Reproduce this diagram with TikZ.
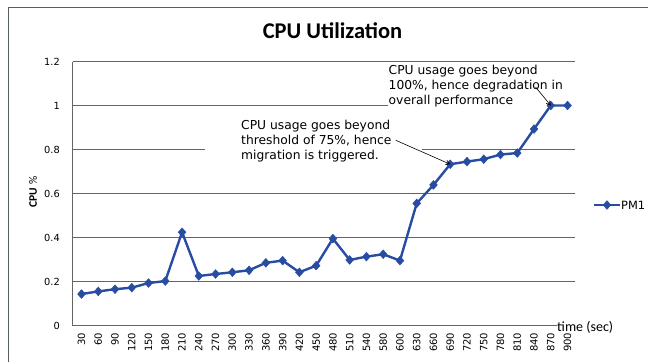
\documentclass[tikz,border=0pt]{standalone}
\usepackage{fontspec}
\setmainfont{DejaVu Sans}
\newfontfamily\carlito{Carlito}
\usetikzlibrary{shapes.geometric,arrows.meta}
\definecolor{series}{RGB}{40,76,162}
\definecolor{gridc}{RGB}{100,100,100}
\definecolor{framec}{RGB}{85,95,92}
\tikzset{
  gridline/.style={gridc, line width=0.9pt},
  axisline/.style={gridc, line width=1pt},
  ticklab/.style={inner sep=0pt, font=\fontsize{9.8}{11}\selectfont, text=black},
  xlab/.style={inner sep=0pt, rotate=90, anchor=east, font=\fontsize{10}{11}\selectfont, text=black},
  anntext/.style={inner sep=0pt, anchor=base west, font=\fontsize{12.3}{15}\selectfont, text=black},
  mk/.style={diamond, fill=series, draw=series, inner sep=0pt, minimum width=8pt, minimum height=9pt},
  seriesline/.style={series, line width=2.4pt, line join=round},
  callout/.style={black, line width=0.6pt, -{Straight Barb[length=4pt,width=4.5pt]}},
}
\begin{document}
\begin{tikzpicture}[x=1pt,y=-1pt]
\useasboundingbox (0,0) rectangle (648,362);

% chart frame
\draw[framec, line width=1pt] (8,362) -- (8,7) -- (648,7);

% title
\node[inner sep=0pt, anchor=base, font=\carlito\bfseries\fontsize{22.5}{24}\selectfont] (title) at (332.5,38.5) {CPU Utilization};

% horizontal gridlines
\draw[gridline] (72.5,61.5) -- (575,61.5);
\draw[gridline] (72.5,105.5) -- (388,105.5);
\draw[gridline] (72.5,149.5) -- (205,149.5);
\draw[gridline] (422,149.5) -- (575,149.5);
\draw[gridline] (72.5,193.5) -- (575,193.5);
\draw[gridline] (72.5,237.5) -- (575,237.5);
\draw[gridline] (72.5,281.5) -- (575,281.5);

% axes
\draw[axisline] (72.5,61.5) -- (72.5,325.5) -- (557,325.5);

% y tick labels
\foreach \v/\lab in {0/0, 0.2/0.2, 0.4/0.4, 0.6/0.6, 0.8/0.8, 1/1, 1.2/1.2}
  \node[ticklab, anchor=east] at (60,{325.5-220*\v}) {\lab};

% y axis title
\node[inner sep=0pt, rotate=90, font=\carlito\fontsize{11.5}{12}\selectfont] (ytitle) at (33,192) {\bfseries CPU \mdseries\%};

% x tick labels
\foreach \t [count=\i from 0] in {30,60,90,120,150,180,210,240,270,300,330,360,390,420,450,480,510,540,580,600,630,660,690,720,750,780,810,840,870,900}
  \node[xlab] at ({81.5+16.76*\i},332.5) {\t};

% x axis title
\node[inner sep=0pt, anchor=west, font=\carlito\fontsize{14}{15}\selectfont] (xtitle) at (557,327) {time (sec)};

% data points
\foreach \v [count=\i from 0] in {0.143,0.155,0.165,0.172,0.193,0.202,0.424,0.225,0.234,0.242,0.251,0.285,0.295,0.242,0.272,0.395,0.298,0.313,0.324,0.295,0.555,0.639,0.733,0.745,0.756,0.777,0.784,0.893,1.0,1.0}
  \coordinate (p\i) at ({81.5+16.76*\i},{325.5-220*\v});

% annotations
\node[anntext] (ann1a) at (241,129) {CPU usage goes beyond};
\node[anntext] (ann1b) at (241,144.2) {threshold of 75\%, hence};
\node[anntext] (ann1c) at (241,159.4) {migration is triggered.};

\node[anntext] (ann2a) at (388.5,74) {CPU usage goes beyond};
\node[anntext] (ann2b) at (388.5,89.2) {100\%, hence degradation in};
\node[anntext] (ann2c) at (388.5,104.4) {overall performance};

% series
\draw[seriesline] (p0) \foreach \i in {1,...,29} { -- (p\i) };
\foreach \i in {0,...,29} \node[mk] (m\i) at (p\i) {};

% callout arrows
\coordinate (c1) at ([xshift=4pt]ann1b.east);
\draw[callout] (c1) -- (p22);
\coordinate (c2) at (535.5,87);
\draw[callout] (c2) -- (p28);

% legend
\coordinate (lg0) at (594,205);
\coordinate (lg1) at (620,205);
\draw[seriesline] (lg0) -- (lg1);
\node[mk] (lgm) at (607,205) {};
\node[inner sep=0pt, anchor=west, font=\fontsize{11.4}{12}\selectfont] (lgt) at (621,205) {PM1};
\end{tikzpicture}
\end{document}
